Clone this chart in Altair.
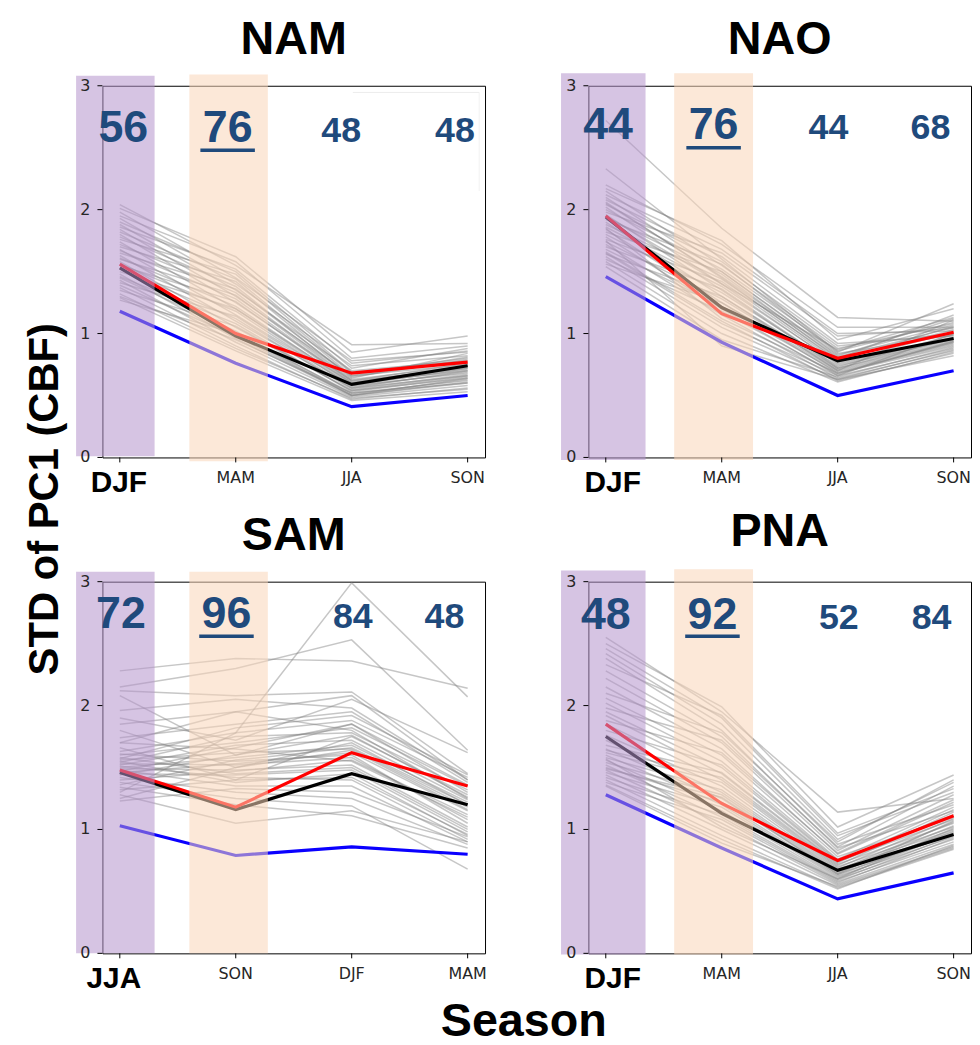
import altair as alt
import pandas as pd

# ---------------- data ----------------
SEASONS_A = ["DJF", "MAM", "JJA", "SON"]
SEASONS_B = ["JJA", "SON", "DJF", "MAM"]
Y_TICKS = [0, 1, 2, 3]
Y_TITLE = "STD of PC1 (CBF)"
X_TITLE = "Season"

# NAM ensemble members (grey), one list per season
nam_s0 = [2.04, 2.01, 1.98, 1.95, 1.93, 1.90, 1.88, 1.86, 1.84, 1.82, 1.80, 1.78, 1.76, 1.74, 1.72, 1.70, 1.68, 1.67, 1.65, 1.63,
          1.61, 1.60, 1.58, 1.56, 1.55, 1.53, 1.52, 1.50, 1.48, 1.46, 1.45, 1.43, 1.41, 1.39, 1.37, 1.35, 1.32, 1.30, 1.29, 1.27]
nam_s1 = [1.55, 1.62, 1.45, 1.58, 1.40, 1.50, 1.35, 1.52, 1.30, 1.44, 1.25, 1.38, 1.48, 1.20, 1.33, 1.42, 1.15, 1.28, 1.36, 1.10,
          1.22, 1.31, 1.05, 1.18, 1.26, 1.00, 1.12, 1.20, 0.96, 1.08, 1.02, 0.93, 1.14, 0.98, 0.90, 1.06, 0.88, 0.95, 0.86, 1.00]
nam_s2 = [0.91, 0.85, 0.78, 0.80, 0.74, 0.72, 0.70, 0.76, 0.66, 0.68, 0.62, 0.64, 0.69, 0.60, 0.63, 0.66, 0.58, 0.61, 0.65, 0.56,
          0.59, 0.62, 0.54, 0.57, 0.60, 0.52, 0.55, 0.58, 0.50, 0.53, 0.51, 0.49, 0.56, 0.50, 0.47, 0.54, 0.48, 0.52, 0.46, 0.50]
nam_s3 = [0.92, 0.98, 0.85, 0.90, 0.82, 0.88, 0.78, 0.86, 0.75, 0.80, 0.72, 0.84, 0.77, 0.70, 0.74, 0.81, 0.68, 0.73, 0.79, 0.66,
          0.71, 0.76, 0.64, 0.69, 0.74, 0.62, 0.67, 0.72, 0.60, 0.65, 0.63, 0.58, 0.70, 0.61, 0.56, 0.66, 0.55, 0.60, 0.53, 0.64]
nam_red = [1.56, 1.00, 0.68, 0.77]
nam_black = [1.53, 0.98, 0.59, 0.74]
nam_blue = [1.18, 0.76, 0.41, 0.50]
nam_pct = [56, 76, 48, 48]

# NAO
nao_s0 = [2.72, 2.33, 2.20, 2.17, 2.15, 2.12, 2.10, 2.08, 2.06, 2.04, 2.02, 2.00, 1.98, 1.96, 1.94, 1.92, 1.90, 1.88, 1.86, 1.84,
          1.82, 1.80, 1.78, 1.76, 1.74, 1.72, 1.70, 1.68, 1.66, 1.64, 1.62, 1.60, 1.58, 1.56, 1.54, 2.05, 1.95, 1.85, 1.75, 1.65]
nao_s1 = [1.85, 1.60, 1.72, 1.75, 1.55, 1.68, 1.50, 1.62, 1.45, 1.58, 1.40, 1.52, 1.65, 1.35, 1.48, 1.56, 1.30, 1.44, 1.38, 1.25,
          1.50, 1.33, 1.20, 1.42, 1.28, 1.15, 1.36, 1.22, 1.10, 1.30, 1.05, 1.18, 1.00, 1.25, 0.95, 1.46, 1.40, 1.12, 0.90, 1.08]
nao_s2 = [1.13, 0.85, 1.05, 0.95, 0.88, 1.00, 0.82, 0.92, 0.78, 0.90, 0.75, 0.86, 0.98, 0.72, 0.80, 0.84, 0.70, 0.79, 0.76, 0.68,
          0.83, 0.74, 0.66, 0.77, 0.71, 0.64, 0.73, 0.69, 0.62, 0.72, 0.63, 0.67, 0.61, 0.70, 0.65, 0.81, 0.87, 0.68, 0.63, 0.66]
nao_s3 = [1.10, 1.24, 1.05, 1.20, 1.08, 1.02, 1.12, 0.98, 1.06, 1.00, 0.96, 1.09, 1.04, 0.94, 1.15, 0.99, 0.92, 1.03, 0.97, 0.90,
          1.07, 0.95, 0.88, 1.01, 0.93, 0.86, 0.99, 0.91, 0.84, 0.96, 0.82, 0.94, 0.85, 1.11, 0.89, 1.05, 1.13, 0.93, 0.87, 1.00]
nao_red = [1.95, 1.16, 0.80, 1.01]
nao_black = [1.94, 1.21, 0.78, 0.96]
nao_blue = [1.46, 0.93, 0.50, 0.70]
nao_pct = [44, 76, 44, 68]

# SAM (seasons JJA, SON, DJF, MAM)
sam_s0 = [1.30, 2.28, 2.15, 2.12, 2.08, 1.96, 1.90, 1.85, 1.80, 1.74, 1.70, 1.66, 1.63, 1.61, 1.60, 1.58, 1.57, 1.56, 1.55, 1.54,
          1.53, 1.52, 1.51, 1.50, 1.49, 1.48, 1.47, 1.46, 1.45, 1.44, 1.42, 1.40, 1.38, 1.36, 1.34, 1.32, 1.28, 1.25, 1.23, 1.70]
sam_s1 = [1.78, 2.38, 2.30, 2.08, 1.60, 2.05, 1.72, 1.95, 1.50, 1.85, 1.65, 1.40, 1.78, 1.55, 1.70, 1.45, 1.82, 1.62, 1.38, 1.75,
          1.52, 1.68, 1.42, 1.58, 1.48, 1.35, 1.66, 1.53, 1.44, 1.60, 1.30, 1.47, 1.25, 1.56, 1.20, 1.40, 1.05, 1.50, 1.33, 1.95]
sam_s2 = [2.99, 2.36, 2.53, 2.11, 1.85, 1.98, 2.05, 1.80, 1.70, 1.95, 1.55, 1.75, 1.88, 1.60, 1.82, 1.50, 1.92, 1.65, 1.45, 1.78,
          1.58, 1.72, 1.40, 1.68, 1.52, 1.35, 1.85, 1.62, 1.48, 1.76, 1.25, 1.56, 1.19, 1.66, 1.11, 1.42, 1.15, 1.64, 1.30, 2.08]
sam_s3 = [2.07, 2.14, 1.64, 1.45, 1.30, 1.40, 1.62, 1.25, 1.20, 1.38, 1.10, 1.28, 1.42, 1.05, 1.35, 1.00, 1.44, 1.18, 0.95, 1.32,
          1.08, 1.24, 0.92, 1.22, 1.02, 0.90, 1.36, 1.15, 0.98, 1.26, 0.88, 1.12, 0.68, 1.20, 0.85, 0.96, 0.90, 1.16, 0.94, 1.40]
sam_red = [1.48, 1.18, 1.62, 1.35]
sam_black = [1.46, 1.16, 1.45, 1.20]
sam_blue = [1.03, 0.79, 0.86, 0.80]
sam_pct = [72, 96, 84, 48]

# PNA
pna_s0 = [2.55, 2.50, 2.46, 2.42, 2.38, 2.33, 2.28, 2.22, 2.15, 2.10, 2.06, 2.02, 1.98, 1.95, 1.92, 1.88, 1.85, 1.80, 1.76, 1.72,
          1.68, 1.65, 1.62, 1.60, 1.58, 1.56, 1.54, 1.52, 1.50, 1.48, 1.46, 1.44, 1.42, 1.40, 1.38, 1.36, 1.35, 1.64, 1.57, 1.49]
pna_s1 = [1.95, 1.99, 1.90, 1.85, 1.80, 1.92, 1.75, 1.70, 1.65, 1.78, 1.60, 1.55, 1.72, 1.50, 1.45, 1.62, 1.40, 1.52, 1.35, 1.30,
          1.46, 1.25, 1.38, 1.20, 1.32, 1.15, 1.28, 1.10, 1.22, 1.05, 1.18, 1.00, 1.12, 0.95, 1.08, 0.92, 0.89, 1.42, 1.02, 1.26]
pna_s2 = [1.14, 1.02, 0.95, 0.92, 0.88, 0.97, 0.85, 0.83, 0.80, 0.90, 0.78, 0.76, 0.86, 0.74, 0.72, 0.81, 0.70, 0.75, 0.68, 0.66,
          0.73, 0.64, 0.69, 0.62, 0.67, 0.60, 0.65, 0.58, 0.63, 0.56, 0.61, 0.55, 0.59, 0.53, 0.57, 0.52, 0.54, 0.71, 0.60, 0.64]
pna_s3 = [1.25, 1.44, 1.30, 1.38, 1.20, 1.33, 1.15, 1.28, 1.22, 1.40, 1.10, 1.18, 1.35, 1.08, 1.05, 1.24, 1.02, 1.12, 1.00, 0.98,
          1.16, 0.96, 1.09, 0.94, 1.06, 0.92, 1.03, 0.90, 0.99, 0.88, 0.97, 0.86, 0.95, 0.84, 0.93, 0.87, 0.85, 1.14, 1.01, 1.07]
pna_red = [1.85, 1.21, 0.75, 1.11]
pna_black = [1.75, 1.13, 0.67, 0.96]
pna_blue = [1.28, 0.85, 0.44, 0.65]
pna_pct = [48, 92, 52, 84]

# ---------------- placement / style (not data) ----------------
PLACE = {
    "NAM": dict(lx=[0.03, 0.93, 1.91, 2.89], ly=2.55, uy=2.48, fdx=-1,
                purple=(-0.377, 0.30, 0.01, 3.08), orange=(0.60, 1.277, -0.03, 3.09), tdy=-32,
                box=(2.01, 3.10, 2.15, 2.946)),
    "NAO": dict(lx=[0.02, 0.93, 1.92, 2.80], ly=2.57, uy=2.50, fdx=7,
                purple=(-0.386, 0.343, -0.02, 3.10), orange=(0.59, 1.27, -0.02, 3.10), tdy=-32),
    "SAM": dict(lx=[0.01, 0.92, 2.01, 2.80], ly=2.63, uy=2.56, fdx=-6,
                purple=(-0.377, 0.30, 0.0, 3.08), orange=(0.60, 1.277, 0.0, 3.08), tdy=-32),
    "PNA": dict(lx=[0.0, 0.92, 2.01, 2.81], ly=2.62, uy=2.56, fdx=7,
                purple=(-0.386, 0.343, -0.01, 3.09), orange=(0.59, 1.27, -0.01, 3.10), tdy=-36),
}
W, H = 385, 374
NUM_COLOR = "#1f4a7c"
BOLD_FONT = "Liberation Sans"
TICK_FONT = "DejaVu Sans"
TICK_COLOR = "#262626"


def panel(name, seasons, gray, red, black, blue, pct, ytitle=False, xtitle=False):
    p = PLACE[name]
    xs = alt.Scale(domain=[-0.15, 3.15], nice=False, zero=False)
    ys = alt.Scale(domain=[0, 3], nice=False, zero=False)

    def X(field):
        return alt.X(field, scale=xs, axis=None)

    def Y(field):
        return alt.Y(field, scale=ys, axis=None)

    rows = []
    for m in range(len(gray[0])):
        for s in range(4):
            rows.append({"member": m, "s": s, "v": gray[s][m]})
    gdf = pd.DataFrame(rows)

    gray_layer = alt.Chart(gdf).mark_line(color="#808080", opacity=0.45, strokeWidth=1.5).encode(
        x=X("s:Q"), y=Y("v:Q"), detail="member:N")

    def series(vals, color):
        df = pd.DataFrame({"s": [0, 1, 2, 3], "v": vals})
        return alt.Chart(df).mark_line(color=color, strokeWidth=3.2).encode(x=X("s:Q"), y=Y("v:Q"))

    rect_df = pd.DataFrame([
        {"x0": p["purple"][0], "x1": p["purple"][1], "y0": p["purple"][2], "y1": p["purple"][3], "band": "lead0"},
        {"x0": p["orange"][0], "x1": p["orange"][1], "y0": p["orange"][2], "y1": p["orange"][3], "band": "lead1"},
    ])
    rects = alt.Chart(rect_df).mark_rect(opacity=0.55).encode(
        x=X("x0:Q"), x2="x1:Q", y=Y("y0:Q"), y2="y1:Q",
        color=alt.Color("band:N", scale=alt.Scale(domain=["lead0", "lead1"], range=["#b494cc", "#f9d5b8"]),
                        legend=None),
    )

    tdf = pd.DataFrame({"x": p["lx"], "y": [p["ly"]] * 4, "t": [str(v) for v in pct]})
    big = alt.Chart(tdf.iloc[:2]).mark_text(font=BOLD_FONT, fontWeight="bold", fontSize=45, color=NUM_COLOR,
                                            baseline="alphabetic", align="center").encode(
        x=X("x:Q"), y=Y("y:Q"), text="t:N")
    small = alt.Chart(tdf.iloc[2:]).mark_text(font=BOLD_FONT, fontWeight="bold", fontSize=36, color=NUM_COLOR,
                                              baseline="alphabetic", align="center").encode(
        x=X("x:Q"), y=Y("y:Q"), text="t:N")
    udf = pd.DataFrame({"x0": [p["lx"][1] - 0.235], "x1": [p["lx"][1] + 0.235], "y": [p["uy"]]})
    underline = alt.Chart(udf).mark_rule(color=NUM_COLOR, strokeWidth=3.5).encode(
        x=X("x0:Q"), x2="x1:Q", y=Y("y:Q"))

    # axis pieces
    sdf = pd.DataFrame({"s": [0, 1, 2, 3], "label": seasons})
    xticks = alt.Chart(sdf).mark_rule(color="black", strokeWidth=1).encode(
        x=X("s:Q"), y=alt.value(H), y2=alt.value(H + 5))
    xlab_first = alt.Chart(sdf.iloc[:1]).mark_text(font=BOLD_FONT, fontWeight="bold", fontSize=30, color="black",
                                                   baseline="alphabetic", align="center", dx=p["fdx"]).encode(
        x=X("s:Q"), y=alt.value(H + 35), text="label:N")
    xlab_rest = alt.Chart(sdf.iloc[1:]).mark_text(font=TICK_FONT, fontSize=16, color=TICK_COLOR,
                                                  baseline="alphabetic", align="center").encode(
        x=X("s:Q"), y=alt.value(H + 26), text="label:N")
    ydf = pd.DataFrame({"v": Y_TICKS, "label": [str(v) for v in Y_TICKS]})
    yticks = alt.Chart(ydf).mark_rule(color="black", strokeWidth=1).encode(
        y=Y("v:Q"), x=alt.value(-5), x2=alt.value(0))
    ylabs = alt.Chart(ydf).mark_text(font=TICK_FONT, fontSize=16, color=TICK_COLOR,
                                     baseline="middle", align="right").encode(
        y=Y("v:Q"), x=alt.value(-12), text="label:N")
    title = alt.Chart(pd.DataFrame({"t": [name]})).mark_text(
        font=BOLD_FONT, fontWeight="bold", fontSize=47, color="black", baseline="alphabetic", align="center"
    ).encode(x=alt.value(W / 2), y=alt.value(p["tdy"]), text="t:N")

    layers = [gray_layer, series(blue, "#0a00ff"), series(black, "black"), series(red, "#ff0000"),
              rects, underline, big, small, xticks, xlab_first, xlab_rest, yticks, ylabs, title]

    if "box" in p:
        bx0, bx1, by0, by1 = p["box"]
        top_edge = alt.Chart(pd.DataFrame({"x0": [bx0], "x1": [bx1], "y": [by1]})).mark_rule(
            color="#ececec", strokeWidth=1).encode(x=X("x0:Q"), x2="x1:Q", y=Y("y:Q"))
        right_edge = alt.Chart(pd.DataFrame({"x": [bx1], "y0": [by0], "y1": [by1]})).mark_rule(
            color="#f2f2f2", strokeWidth=1).encode(x=X("x:Q"), y=Y("y0:Q"), y2="y1:Q")
        layers = [top_edge, right_edge] + layers

    if ytitle:
        layers.append(alt.Chart(pd.DataFrame({"t": [Y_TITLE]})).mark_text(
            font=BOLD_FONT, fontWeight="bold", fontSize=42, color="black", angle=270,
            baseline="alphabetic", align="center").encode(x=alt.value(-45), y=alt.value(416), text="t:N"))
    if xtitle:
        layers.append(alt.Chart(pd.DataFrame({"t": [X_TITLE]})).mark_text(
            font=BOLD_FONT, fontWeight="bold", fontSize=47, color="black",
            baseline="alphabetic", align="center").encode(x=alt.value(424), y=alt.value(H + 83), text="t:N"))

    return alt.layer(*layers).properties(width=W, height=H)


p1 = panel("NAM", SEASONS_A, [nam_s0, nam_s1, nam_s2, nam_s3], nam_red, nam_black, nam_blue, nam_pct, ytitle=True)
p2 = panel("NAO", SEASONS_A, [nao_s0, nao_s1, nao_s2, nao_s3], nao_red, nao_black, nao_blue, nao_pct)
p3 = panel("SAM", SEASONS_B, [sam_s0, sam_s1, sam_s2, sam_s3], sam_red, sam_black, sam_blue, sam_pct, xtitle=True)
p4 = panel("PNA", SEASONS_A, [pna_s0, pna_s1, pna_s2, pna_s3], pna_red, pna_black, pna_blue, pna_pct)

chart = alt.concat(p1, p2, p3, p4, columns=2, spacing={"row": 125, "column": 104}, bounds="flush").properties(
    padding={"left": 15, "top": 4, "right": 0, "bottom": 0}, background="white",
).configure_view(stroke="black", strokeWidth=1)

chart.save("out.html", embed_options={"renderer": "svg", "actions": False})
